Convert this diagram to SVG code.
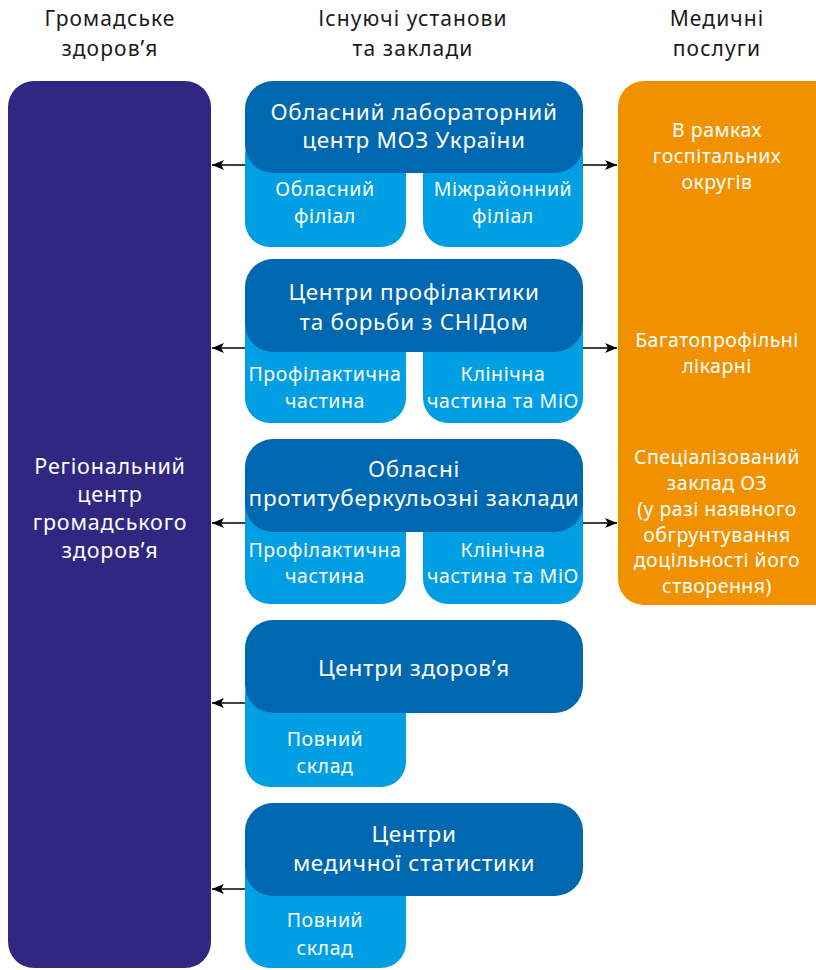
<svg xmlns="http://www.w3.org/2000/svg" width="816" height="970" viewBox="0 0 816 970">
<defs>
<style>
text{font-family:"Noto Sans","Liberation Sans",sans-serif;text-anchor:middle;fill:#fff}
.h{fill:#1a1a1a;font-size:21px;letter-spacing:1.1px}
.d{font-size:22.5px;letter-spacing:0.7px}
.l{font-size:19.5px;letter-spacing:0.6px}
.o{font-size:19.5px;letter-spacing:0.5px}
.p{font-size:21.5px;letter-spacing:0.8px}
.dark{fill:#0067b1}
.light{fill:#009fe3}
.conn{stroke:#000;stroke-width:1.3;fill:none;marker-end:url(#ah)}
</style>
<marker id="ah" viewBox="0 0 12 10" refX="12" refY="5" markerWidth="12" markerHeight="10" markerUnits="userSpaceOnUse" orient="auto">
<path d="M0,0 L12,5 L0,10 L3,5 Z" fill="#000"/>
</marker>
</defs>
<rect width="816" height="970" fill="#fff"/>
<g id="headers">
<text class="h" x="110" y="26">Громадське</text>
<text class="h" x="110" y="56">здоров’я</text>
<text class="h" x="413" y="26">Існуючі установи</text>
<text class="h" x="413" y="56">та заклади</text>
<text class="h" x="717" y="26">Медичні</text>
<text class="h" x="717" y="56">послуги</text>
</g>
<g id="regional">
<rect x="8" y="81" width="203" height="887" rx="26" fill="#312783"/>
<text class="p" x="110" y="474">Регіональний</text>
<text class="p" x="110" y="502">центр</text>
<text class="p" x="110" y="530">громадського</text>
<text class="p" x="110" y="558">здоров’я</text>
</g>
<g id="medical">
<rect x="618" y="81" width="230" height="524" rx="26" fill="#f29100"/>
<text class="o" x="717" y="137">В рамках</text>
<text class="o" x="717" y="163">госпітальних</text>
<text class="o" x="717" y="189">округів</text>
<text class="o" x="717" y="347">Багатопрофільні</text>
<text class="o" x="717" y="373">лікарні</text>
<text class="o" x="717" y="464">Спеціалізований</text>
<text class="o" x="717" y="490">заклад ОЗ</text>
<text class="o" x="717" y="516">(у разі наявного</text>
<text class="o" x="717" y="542">обгрунтування</text>
<text class="o" x="717" y="567">доцільності його</text>
<text class="o" x="717" y="593">створення)</text>
</g>
<g id="lab">
<rect class="light" x="245" y="130" width="161" height="117" rx="25"/>
<rect class="light" x="423" y="130" width="160" height="117" rx="25"/>
<rect class="dark" x="245" y="81" width="338" height="92" rx="28"/>
<text class="d" x="414" y="120">Обласний лабораторний</text>
<text class="d" x="414" y="148">центр МОЗ України</text>
<text class="l" x="325" y="196">Обласний</text>
<text class="l" x="325" y="223">філіал</text>
<text class="l" x="503" y="196">Міжрайонний</text>
<text class="l" x="503" y="223">філіал</text>
</g>
<g id="aids">
<rect class="light" x="245" y="306" width="161" height="117" rx="25"/>
<rect class="light" x="423" y="306" width="160" height="117" rx="25"/>
<rect class="dark" x="245" y="259" width="338" height="93" rx="28"/>
<text class="d" x="414" y="300">Центри профілактики</text>
<text class="d" x="414" y="330">та борьби з СНІДом</text>
<text class="l" x="325" y="381">Профілактична</text>
<text class="l" x="325" y="408">частина</text>
<text class="l" x="503" y="381">Клінічна</text>
<text class="l" x="503" y="408">частина та МіО</text>
</g>
<g id="tb">
<rect class="light" x="245" y="487" width="161" height="117" rx="25"/>
<rect class="light" x="423" y="487" width="160" height="117" rx="25"/>
<rect class="dark" x="245" y="439" width="338" height="93" rx="28"/>
<text class="d" x="414" y="477">Обласні</text>
<text class="d" x="414" y="506">протитуберкульозні заклади</text>
<text class="l" x="325" y="557">Профілактична</text>
<text class="l" x="325" y="583">частина</text>
<text class="l" x="503" y="557">Клінічна</text>
<text class="l" x="503" y="583">частина та МіО</text>
</g>
<g id="health">
<rect class="light" x="245" y="670" width="161" height="117" rx="25"/>
<rect class="dark" x="245" y="620" width="338" height="93" rx="28"/>
<text class="d" x="414" y="676">Центри здоров’я</text>
<text class="l" x="325" y="746">Повний</text>
<text class="l" x="325" y="773">склад</text>
</g>
<g id="stat">
<rect class="light" x="245" y="851" width="161" height="117" rx="25"/>
<rect class="dark" x="245" y="803" width="338" height="93" rx="28"/>
<text class="d" x="414" y="842">Центри</text>
<text class="d" x="414" y="871">медичної статистики</text>
<text class="l" x="325" y="927">Повний</text>
<text class="l" x="325" y="955">склад</text>
</g>
<g id="connectors">
<line class="conn" x1="245" y1="165" x2="212" y2="165"/>
<line class="conn" x1="583" y1="165" x2="617" y2="165"/>
<line class="conn" x1="245" y1="348" x2="212" y2="348"/>
<line class="conn" x1="583" y1="348" x2="617" y2="348"/>
<line class="conn" x1="245" y1="523" x2="212" y2="523"/>
<line class="conn" x1="583" y1="523" x2="617" y2="523"/>
<line class="conn" x1="245" y1="703" x2="212" y2="703"/>
<line class="conn" x1="245" y1="889" x2="212" y2="889"/>
</g>
</svg>
